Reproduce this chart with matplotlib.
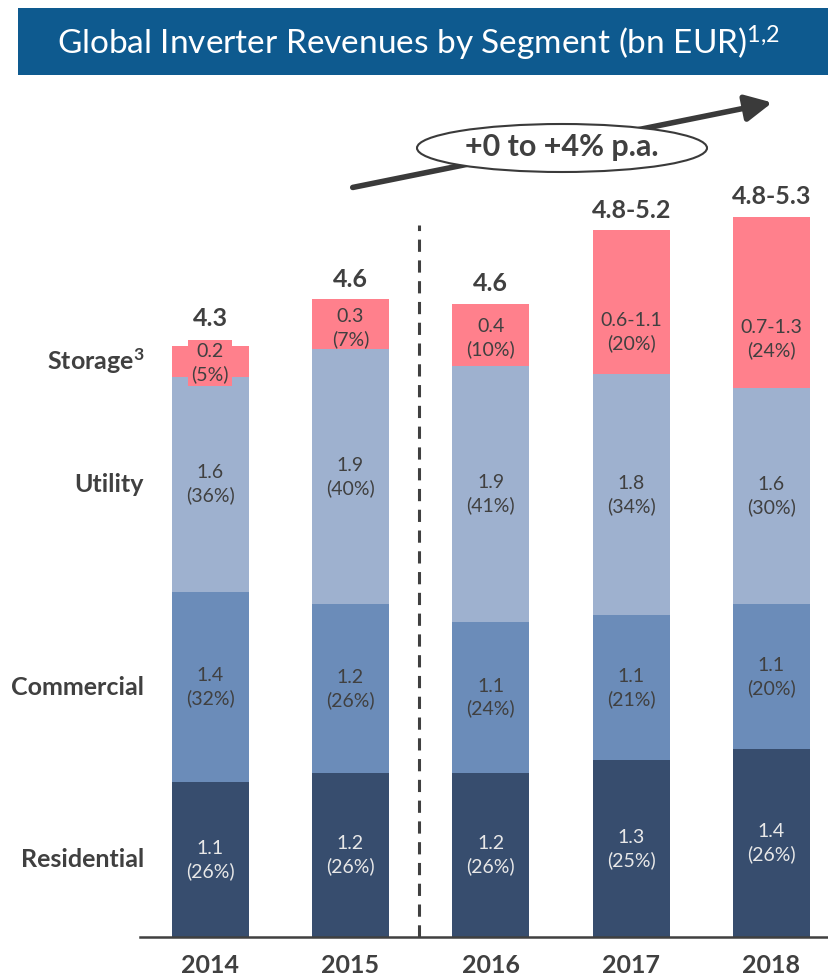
import matplotlib
matplotlib.use("Agg")
import matplotlib.pyplot as plt
from matplotlib.patches import Rectangle, Ellipse, FancyArrowPatch
import numpy as np

plt.rcParams['font.family'] = ['Lato', 'DejaVu Sans']
plt.rcParams['mathtext.fontset'] = 'custom'
plt.rcParams['mathtext.rm'] = 'Lato'
plt.rcParams['mathtext.it'] = 'Lato'
plt.rcParams['mathtext.bf'] = 'Lato:bold'

years = ["2014", "2015", "2016", "2017", "2018"]
segments = ["Residential", "Commercial", "Utility", "Storage"]
residential = [1.12, 1.19, 1.19, 1.28, 1.36]
commercial = [1.38, 1.22, 1.09, 1.05, 1.05]
utility = [1.56, 1.85, 1.86, 1.75, 1.57]
storage = [0.22, 0.36, 0.45, 1.04, 1.24]
storage_low = [0.2, 0.3, 0.4, 0.6, 0.7]
residential_labels = ["1.1\n(26%)", "1.2\n(26%)", "1.2\n(26%)", "1.3\n(25%)", "1.4\n(26%)"]
commercial_labels = ["1.4\n(32%)", "1.2\n(26%)", "1.1\n(24%)", "1.1\n(21%)", "1.1\n(20%)"]
utility_labels = ["1.6\n(36%)", "1.9\n(40%)", "1.9\n(41%)", "1.8\n(34%)", "1.6\n(30%)"]
storage_labels = ["0.2\n(5%)", "0.3\n(7%)", "0.4\n(10%)", "0.6-1.1\n(20%)", "0.7-1.3\n(24%)"]
total_labels = ["4.3", "4.6", "4.6", "4.8-5.2", "4.8-5.3"]
title = "Global Inverter Revenues by Segment (bn EUR)"
cagr_text = "+0 to +4% p.a."

colors = {"Residential": "#374d6e", "Commercial": "#6b8cb9",
          "Utility": "#9eb1cf", "Storage": "#ff808c"}
label_colors = {"Residential": "#e8e8e8", "Commercial": "#404040",
                "Utility": "#404040", "Storage": "#404040"}
txt = "#404040"

W, H = 829, 980
fig = plt.figure(figsize=(W / 100, H / 100), dpi=100)

# axes: x from 140px to 829px, y from 937px (baseline) to 80px
ax = fig.add_axes([140 / W, (H - 937) / H, (W - 140) / W, (937 - 80) / H])
x = np.arange(len(years))
ax.set_xlim(-0.5, 4.41)
ax.set_ylim(0, 857 / 138)

bw = 0.55
series = [residential, commercial, utility, storage]
labels = [residential_labels, commercial_labels, utility_labels, storage_labels]
bottom = np.zeros(len(years))
for name, vals, labs in zip(segments, series, labels):
    vals = np.array(vals)
    ax.bar(x, vals, bw, bottom=bottom, color=colors[name], linewidth=0, zorder=2)
    for i in range(len(years)):
        if name == "Storage":
            yc = bottom[i] + storage_low[i] / 2
            bbox = dict(boxstyle="square,pad=0.15", fc=colors[name], ec="none") if i == 0 else None
        else:
            yc = bottom[i] + vals[i] / 2
            bbox = None
        ax.text(x[i], yc, labs[i], ha="center", va="center", fontsize=14,
                color=label_colors[name], linespacing=1.35, zorder=3, bbox=bbox)
    bottom = bottom + vals

totals = bottom
for i in range(len(years)):
    off = 12 if i == 0 else 6
    ax.annotate(total_labels[i], (x[i], totals[i]), xytext=(0, off),
                textcoords="offset points", ha="center", va="bottom",
                fontsize=18, fontweight="bold", color=txt)

# segment names at left, aligned with 2014 segments
cum = 0
first = [residential[0], commercial[0], utility[0], storage[0]]
ypos = []
for v in first:
    ypos.append(cum + v / 2)
    cum += v
names_disp = ["Residential", "Commercial", "Utility", r"Storage$^{\mathbf{3}}$"]
for nm, yy in zip(names_disp, ypos):
    ax.text(-0.47, yy, nm, ha="right", va="center", fontsize=18,
            fontweight="bold", color=txt, clip_on=False)

# dashed separator
ax.plot([1.49, 1.49], [0, (937 - 225) / 138], ls=(0, (4, 2.8)), lw=2.2,
        color="#404040", zorder=1)

for s in ["top", "right", "left"]:
    ax.spines[s].set_visible(False)
ax.spines["bottom"].set_color("#404040")
ax.spines["bottom"].set_linewidth(1.8)
ax.set_yticks([])
ax.set_xticks(x)
ax.set_xticklabels(years, fontsize=18, fontweight="bold", color=txt)
ax.tick_params(axis="x", length=0, pad=12)

# title band
fig.patches.append(Rectangle((18 / W, (H - 75) / H), 1 - 18 / W, 67 / H,
                             transform=fig.transFigure, fc="#0e5a8f", ec="none"))
fig.text(418 / W, (H - 43) / H, title + r"$^{1{,}2}$", ha="center", va="center",
         fontsize=24, color="white")

# growth arrow
arr = FancyArrowPatch((350 / W, (H - 188) / H), (775 / W, (H - 102) / H),
                      transform=fig.transFigure, arrowstyle="-|>,head_length=16,head_width=8",
                      mutation_scale=1, lw=4, color="#3a3a3a")
fig.patches.append(arr)
ell = Ellipse((562 / W, (H - 148) / H), 290 / W, 48 / H, transform=fig.transFigure,
              fc="white", ec="#3a3a3a", lw=1.5)
fig.patches.append(ell)
fig.text(562 / W, (H - 147) / H, cagr_text, ha="center", va="center",
         fontsize=22, fontweight="bold", color=txt)

fig.savefig("out.png", dpi=100)
